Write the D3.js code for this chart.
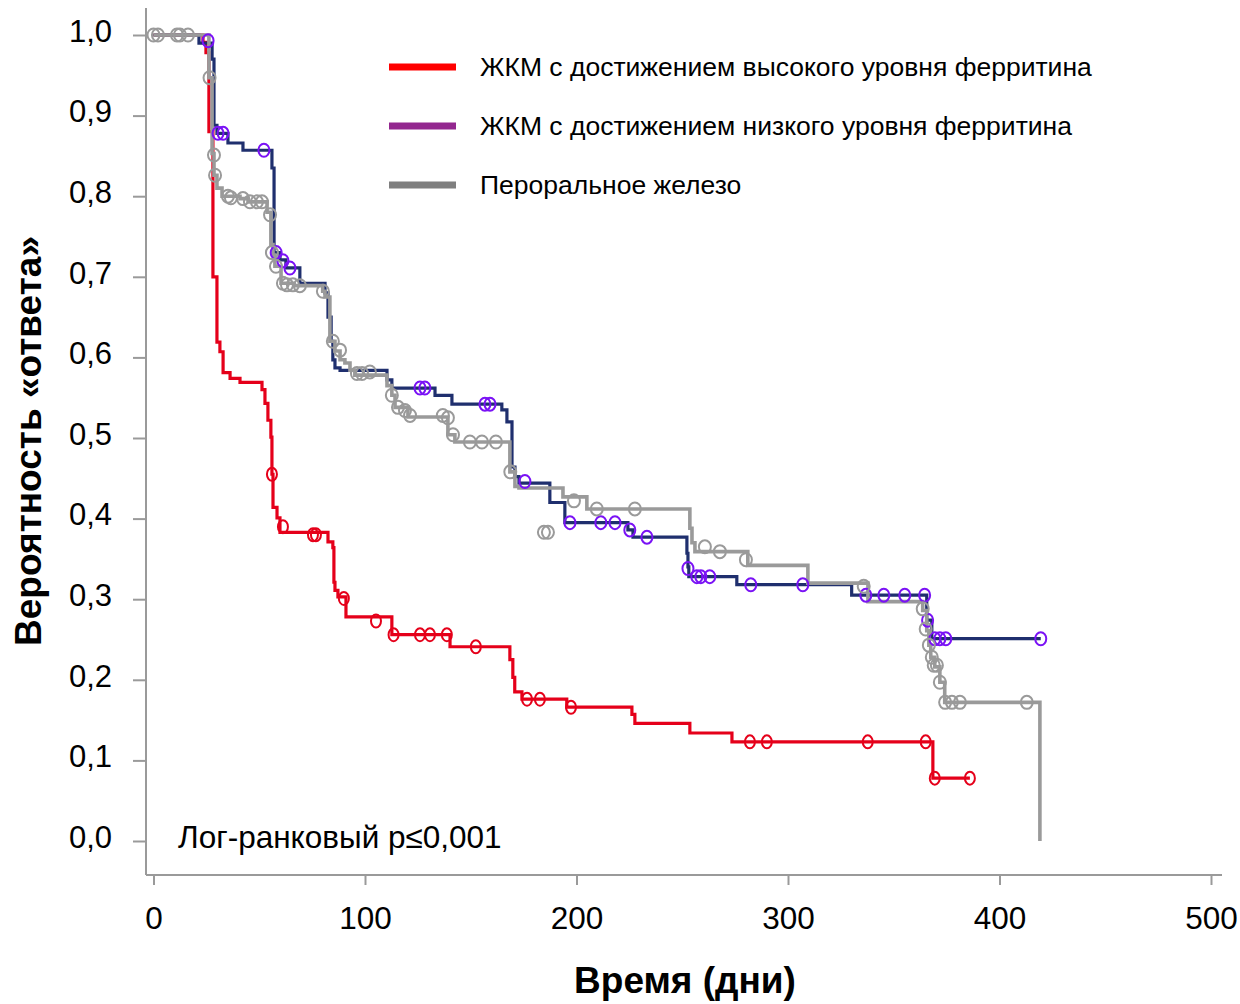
<!DOCTYPE html>
<html><head><meta charset="utf-8">
<script src="https://cdn.jsdelivr.net/npm/d3@7"></script>
<style>body{margin:0;background:#fff}svg{display:block}text{font-family:Arial,"Liberation Sans",sans-serif}</style>
</head><body><svg id="chart" width="1240" height="1004"></svg>
<script>
// ---- data ----
const seriesNames = ["ЖКМ с достижением высокого уровня ферритина","ЖКМ с достижением низкого уровня ферритина","Пероральное железо"];
const xTicks = [0,100,200,300,400,500];
const yTicks = [0,0.1,0.2,0.3,0.4,0.5,0.6,0.7,0.8,0.9,1.0];
const annotation = "Лог-ранковый p≤0,001";
const xTitle = "Время (дни)";
const yTitle = "Вероятность «ответа»";

const redSteps = [[23.4,0.991],[24.8,0.978],[26.2,0.880],[28.1,0.700],[30.0,0.619],[31.4,0.607],[32.9,0.581],[36.2,0.574],[40.9,0.569],[51.3,0.560],[52.7,0.543],[54.1,0.522],[55.5,0.501],[56.0,0.455],[56.5,0.414],[58.4,0.401],[59.8,0.383],[82.5,0.371],[84.8,0.364],[85.3,0.321],[85.8,0.311],[87.2,0.303],[91.0,0.278],[112.7,0.256],[140.2,0.241],[168.5,0.225],[169.9,0.203],[170.8,0.185],[174.2,0.176],[195.4,0.166],[226.2,0.157],[227.6,0.146],[253.6,0.134],[273.5,0.123],[368.5,0.078]];
const redEnd = 386.0;
const redCensors = [[56.0,0.455],[61.2,0.39],[75.4,0.38],[76.8,0.38],[90.0,0.301],[105.2,0.273],[113.5,0.256],[126.0,0.256],[130.7,0.256],[138.7,0.256],[152.4,0.241],[176.6,0.176],[182.7,0.176],[197.4,0.166],[282.0,0.123],[290.0,0.123],[337.7,0.123],[365.1,0.123],[369.4,0.078],[386.0,0.078]];

const navySteps = [[21.5,0.990],[27.7,0.970],[28.6,0.888],[30.0,0.878],[35.2,0.866],[42.3,0.857],[56.0,0.835],[57.0,0.730],[59.8,0.721],[62.6,0.711],[69.2,0.692],[81.1,0.680],[82.5,0.650],[84.0,0.620],[84.8,0.597],[85.8,0.587],[88.2,0.584],[110.4,0.572],[112.7,0.562],[133.1,0.553],[141.1,0.542],[164.7,0.535],[167.1,0.520],[169.5,0.464],[170.9,0.452],[172.8,0.444],[187.4,0.420],[194.5,0.395],[224.3,0.386],[226.7,0.377],[252.2,0.357],[252.7,0.340],[253.1,0.328],[275.8,0.318],[330.1,0.305],[365.6,0.274],[368.0,0.251]];
const navyEnd = 419.5;
const navyCensors = [[25.8,0.993],[30.5,0.878],[32.9,0.878],[52.2,0.857],[58.0,0.730],[61.2,0.720],[64.5,0.711],[126.0,0.562],[128.3,0.562],[156.7,0.542],[159.1,0.542],[175.6,0.446],[196.9,0.395],[211.5,0.395],[218.2,0.395],[225.2,0.386],[233.3,0.377],[252.7,0.338],[256.9,0.328],[258.8,0.328],[263.0,0.328],[282.4,0.318],[307.0,0.318],[336.8,0.305],[345.3,0.305],[355.2,0.305],[364.6,0.305],[366.0,0.274],[369.4,0.251],[371.8,0.251],[374.6,0.251],[419.5,0.251]];

const graySteps = [[26.2,0.947],[27.7,0.853],[28.6,0.826],[30.0,0.810],[32.4,0.800],[40.9,0.797],[44.7,0.793],[53.7,0.780],[55.5,0.740],[56.5,0.727],[57.4,0.713],[60.3,0.692],[66.5,0.689],[80.0,0.682],[81.1,0.675],[83.4,0.620],[85.8,0.608],[88.2,0.597],[90.5,0.593],[92.9,0.584],[95.2,0.578],[110.4,0.565],[112.7,0.553],[114.2,0.538],[120.3,0.526],[139.2,0.504],[142.5,0.495],[168.5,0.458],[170.9,0.440],[172.8,0.438],[193.6,0.427],[204.9,0.412],[253.6,0.388],[254.6,0.370],[256.0,0.359],[281.0,0.342],[309.4,0.320],[337.8,0.297],[363.7,0.286],[365.6,0.261],[366.6,0.243],[367.5,0.228],[369.4,0.216],[371.8,0.197],[374.1,0.172],[419.1,0.000]];
const grayEnd = 419.1;
const grayCensors = [[0.0,1],[2.1,1],[11.1,1],[12.5,1],[16.3,1],[26.5,0.947],[28.6,0.851],[29.1,0.826],[35.2,0.800],[36.6,0.798],[42.3,0.797],[45.6,0.793],[48.9,0.793],[51.3,0.793],[55.1,0.777],[56.0,0.730],[57.9,0.713],[61.2,0.692],[63.1,0.690],[65.9,0.690],[69.2,0.689],[80.1,0.682],[84.8,0.620],[88.2,0.609],[96.2,0.580],[98.6,0.580],[102.3,0.582],[112.7,0.553],[115.6,0.538],[118.9,0.534],[121.3,0.528],[136.8,0.528],[139.2,0.525],[141.6,0.504],[149.6,0.495],[155.3,0.495],[161.9,0.495],[168.7,0.458],[184.6,0.383],[186.5,0.383],[198.8,0.422],[209.6,0.412],[227.6,0.412],[260.7,0.365],[267.8,0.359],[280.1,0.349],[335.8,0.316],[363.7,0.288],[365.1,0.263],[366.6,0.243],[368.0,0.228],[368.9,0.218],[370.4,0.218],[371.8,0.197],[374.3,0.172],[377.5,0.172],[381.3,0.172],[412.9,0.172]];

// ---- drawing ----
const svg = d3.select("#chart");
const x = d3.scaleLinear().domain([0,500]).range([153.5,1211]);
const y = d3.scaleLinear().domain([0,1]).range([841,35]);
const axisColor = "#9a9a9a";

svg.append("line").attr("x1",146).attr("x2",146).attr("y1",8).attr("y2",875).attr("stroke",axisColor).attr("stroke-width",2);
svg.append("line").attr("x1",146).attr("x2",1222).attr("y1",875).attr("y2",875).attr("stroke",axisColor).attr("stroke-width",2);

const yAxis = svg.append("g").attr("transform","translate(146,0)")
  .call(d3.axisLeft(y).tickValues(yTicks).tickSize(13).tickSizeOuter(0).tickPadding(21)
    .tickFormat(d=>d.toFixed(1).replace(".",",")));
yAxis.select(".domain").remove();
yAxis.selectAll("line").attr("stroke",axisColor).attr("stroke-width",2);
yAxis.selectAll("text").attr("font-size",31).attr("fill","#000").attr("dy","0.2em")
  .attr("font-family","Arial, 'Liberation Sans', sans-serif");

const xAxis = svg.append("g").attr("transform","translate(0,875)")
  .call(d3.axisBottom(x).tickValues(xTicks).tickSize(10).tickSizeOuter(0).tickPadding(22).tickFormat(d3.format("d")));
xAxis.select(".domain").remove();
xAxis.selectAll("line").attr("stroke",axisColor).attr("stroke-width",2);
xAxis.selectAll("text").attr("font-size",31.5).attr("fill","#000").attr("font-family","Arial, 'Liberation Sans', sans-serif");

svg.append("text").attr("x",685).attr("y",993).attr("text-anchor","middle")
  .attr("font-size",37).attr("font-weight","bold").text(xTitle);
svg.append("text").attr("transform","translate(41,441) rotate(-90)").attr("text-anchor","middle")
  .attr("font-size",37).attr("font-weight","bold").text(yTitle);
svg.append("text").attr("x",178).attr("y",848).attr("font-size",31.5).text(annotation);

const line = d3.line().x(d=>x(d[0])).y(d=>y(d[1])).curve(d3.curveStepAfter);
function curvePoints(steps,end){
  const pts = [[0,1],...steps];
  pts.push([end, steps[steps.length-1][1]]);
  return pts;
}
const series = [
  {steps:redSteps,end:redEnd,censors:redCensors,line:"#e5001a",mark:"#e5001a",w:3.2,rx:5,ry:6.5},
  {steps:navySteps,end:navyEnd,censors:navyCensors,line:"#1f2f6e",mark:"#7a12f5",w:3.2,rx:5.5,ry:6.5},
  {steps:graySteps,end:grayEnd,censors:grayCensors,line:"#9a9a9a",mark:"#9a9a9a",w:3.6,rx:6,ry:6.5}
];
series.forEach(s=>{
  svg.append("path").datum(curvePoints(s.steps,s.end)).attr("d",line)
    .attr("fill","none").attr("stroke",s.line).attr("stroke-width",s.w).attr("stroke-linejoin","miter");
});
series.forEach(s=>{
  svg.append("g").selectAll("ellipse").data(s.censors).join("ellipse")
    .attr("cx",d=>x(d[0])).attr("cy",d=>y(d[1])).attr("rx",s.rx).attr("ry",s.ry)
    .attr("fill","none").attr("stroke",s.mark).attr("stroke-width",2);
});

const legendColors = ["#ff0000","#93278f","#7f7f7f"];
const lg = svg.append("g");
seriesNames.forEach((n,i)=>{
  const yy = 67 + i*59;
  lg.append("line").attr("x1",389).attr("x2",456).attr("y1",yy).attr("y2",yy)
    .attr("stroke",legendColors[i]).attr("stroke-width",7);
  lg.append("text").attr("x",480).attr("y",yy+9).attr("font-size",26.5).text(n);
});
</script></body></html>
